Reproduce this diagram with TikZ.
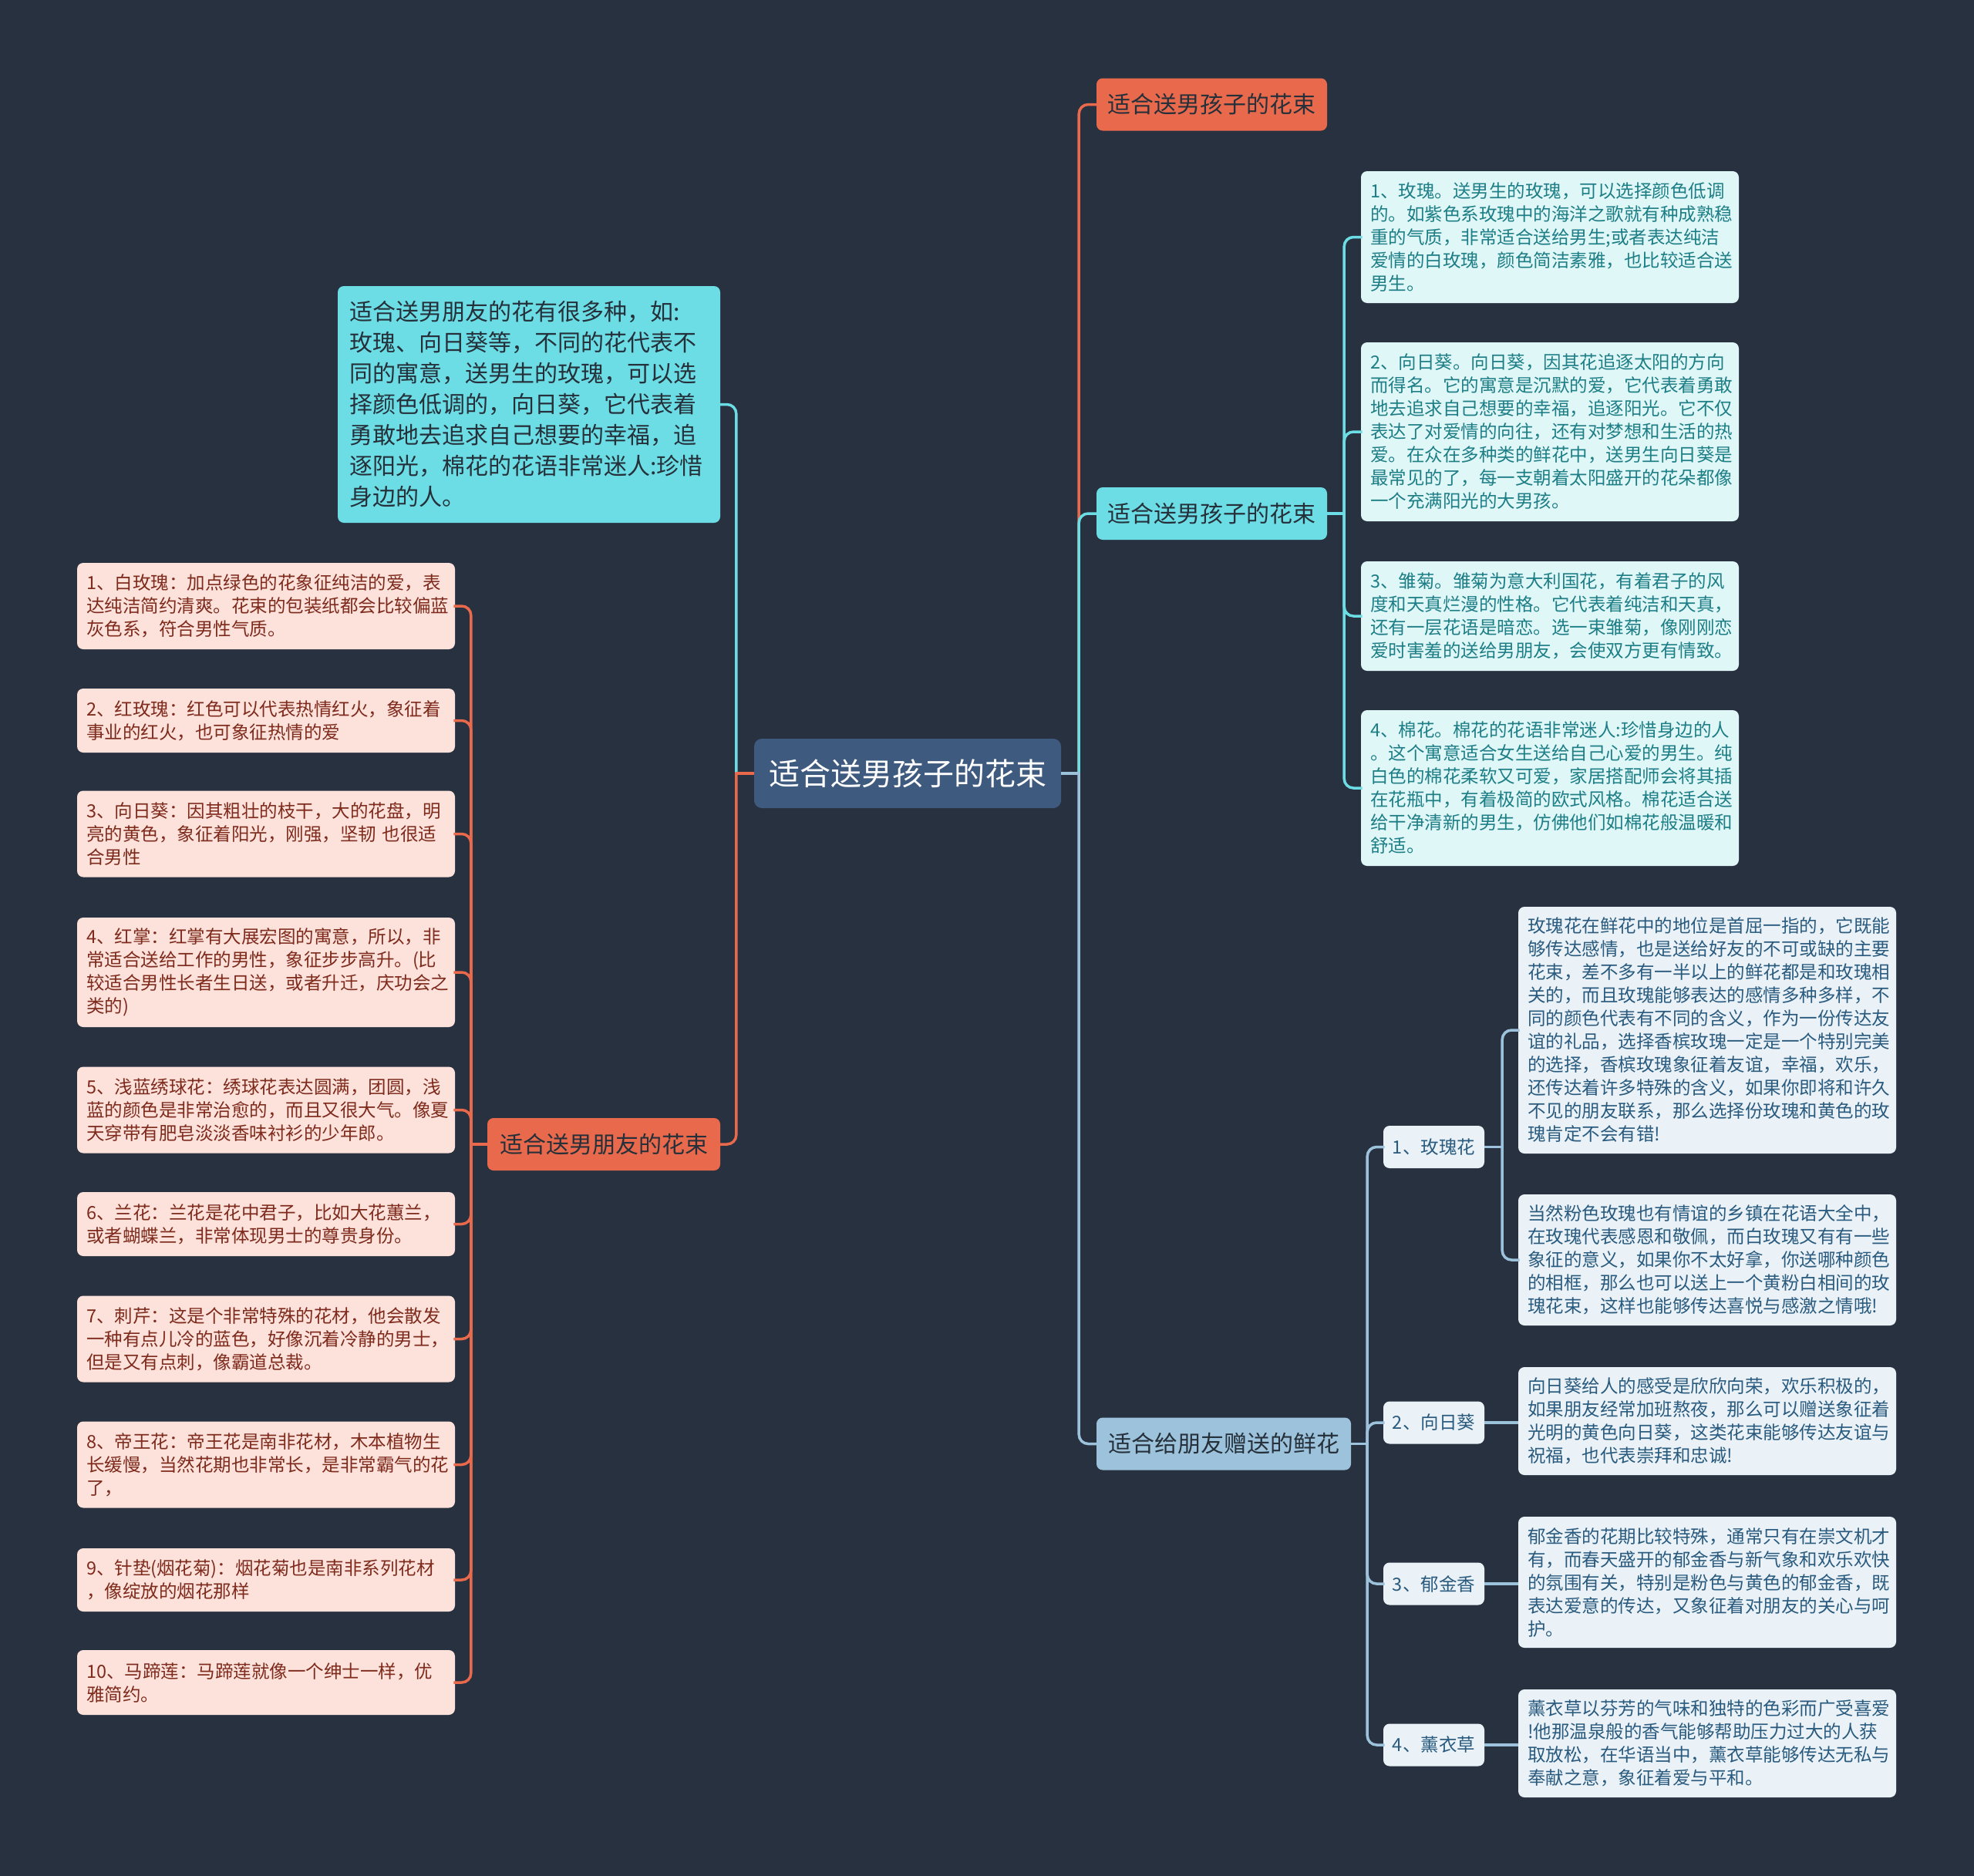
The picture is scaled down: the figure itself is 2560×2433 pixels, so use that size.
\documentclass[tikz,border=0pt]{standalone}
\usepackage{fontspec}
\newfontfamily\cjk{Noto Sans CJK SC}
\definecolor{bg}{HTML}{283140}
\definecolor{centerfill}{HTML}{3E5A7E}
\definecolor{orangefill}{HTML}{E8694B}
\definecolor{cyanfill}{HTML}{6CDDE4}
\definecolor{friendfill}{HTML}{9DC3DC}
\definecolor{pinkfill}{HTML}{FCE2DB}
\definecolor{pinktext}{HTML}{7E2A1C}
\definecolor{cyanleaf}{HTML}{E0F7F8}
\definecolor{cyantext}{HTML}{1D7E86}
\definecolor{friendleaf}{HTML}{EAF2F8}
\definecolor{friendtext}{HTML}{2A5B7E}
\definecolor{darktext}{HTML}{25303A}
\tikzset{
  box/.style={rounded corners=8pt, inner xsep=12pt, inner ysep=0pt, align=left,
    font=\cjk\fontsize{23.5}{30}\selectfont},
  pinkleaf/.style={box, fill=pinkfill, text=pinktext, text width=466pt, minimum height=#1},
  cyanleafbox/.style={box, fill=cyanleaf, text=cyantext, text width=466pt, minimum height=#1},
  friendleafbox/.style={box, fill=friendleaf, text=friendtext, text width=466pt, minimum height=#1},
  smallnode/.style={rounded corners=8pt, fill=friendleaf, text=friendtext, inner sep=0pt,
    minimum width=131pt, minimum height=55pt, font=\cjk\fontsize{23.5}{30}\selectfont},
  topic/.style={rounded corners=8pt, inner sep=0pt, minimum height=68pt,
    font=\cjk\fontsize{30}{40}\selectfont, text=darktext},
  conn/.style={line width=3.5pt, rounded corners=12pt, line cap=rect},
  stub/.style={line width=3.5pt},
}
\begin{document}
\begin{tikzpicture}[x=1pt,y=-1pt]
\fill[bg] (0,0) rectangle (2560,2433);
\useasboundingbox (0,0) rectangle (2560,2433);

% central
\node[rounded corners=10pt, fill=centerfill, text=white, inner sep=0pt,
  minimum width=398pt, minimum height=90pt, font=\cjk\fontsize{40}{48}\selectfont]
  (c) at (1177,1003) {适合送男孩子的花束};

% right level-1
\node[topic, fill=orangefill, minimum width=299pt] (r0) at (1571.5,135.5) {适合送男孩子的花束};
\node[topic, fill=cyanfill, minimum width=299pt] (rc) at (1571.5,666) {适合送男孩子的花束};
\node[topic, fill=friendfill, minimum width=330pt] (f) at (1587,1872.5) {适合给朋友赠送的鲜花};

% left level-1
\node[rounded corners=8pt, fill=cyanfill, text=darktext, inner xsep=15pt, inner ysep=0pt,
  text width=466pt, minimum height=307pt, align=left, font=\cjk\fontsize{30}{40}\selectfont]
  (lc) at (686,524.5) {适合送男朋友的花有很多种，如:\\玫瑰、向日葵等，不同的花代表不\\同的寓意，送男生的玫瑰，可以选\\择颜色低调的，向日葵，它代表着\\勇敢地去追求自己想要的幸福，追\\逐阳光，棉花的花语非常迷人:珍惜\\身边的人。};
\node[topic, fill=orangefill, minimum width=302pt] (lo) at (783,1484) {适合送男朋友的花束};

% pink leaves
\node[pinkleaf=112pt] (p1) at (345,786) {1、白玫瑰：加点绿色的花象征纯洁的爱，表\\达纯洁简约清爽。花束的包装纸都会比较偏蓝\\灰色系，符合男性气质。};
\node[pinkleaf=83pt] (p2) at (345,934.5) {2、红玫瑰：红色可以代表热情红火，象征着\\事业的红火，也可象征热情的爱};
\node[pinkleaf=112pt] (p3) at (345,1081.5) {3、向日葵：因其粗壮的枝干，大的花盘，明\\亮的黄色，象征着阳光，刚强，坚韧~也很适\\合男性};
\node[pinkleaf=142pt] (p4) at (345,1261) {4、红掌：红掌有大展宏图的寓意，所以，非\\常适合送给工作的男性，象征步步高升。(比\\较适合男性长者生日送，或者升迁，庆功会之\\类的)};
\node[pinkleaf=112pt] (p5) at (345,1439.5) {5、浅蓝绣球花：绣球花表达圆满，团圆，浅\\蓝的颜色是非常治愈的，而且又很大气。像夏\\天穿带有肥皂淡淡香味衬衫的少年郎。};
\node[pinkleaf=83pt] (p6) at (345,1587.5) {6、兰花：兰花是花中君子，比如大花蕙兰，\\或者蝴蝶兰，非常体现男士的尊贵身份。};
\node[pinkleaf=112pt] (p7) at (345,1736.5) {7、刺芹：这是个非常特殊的花材，他会散发\\一种有点儿冷的蓝色，好像沉着冷静的男士，\\但是又有点刺，像霸道总裁。};
\node[pinkleaf=112pt] (p8) at (345,1899.5) {8、帝王花：帝王花是南非花材，木本植物生\\长缓慢，当然花期也非常长，是非常霸气的花\\了，};
\node[pinkleaf=82pt] (p9) at (345,2049) {9、针垫(烟花菊)：烟花菊也是南非系列花材\\，像绽放的烟花那样};
\node[pinkleaf=84pt] (p10) at (345,2182) {10、马蹄莲：马蹄莲就像一个绅士一样，优\\雅简约。};

% right cyan leaves
\node[cyanleafbox=171pt] (q1) at (2010,307.5) {1、玫瑰。送男生的玫瑰，可以选择颜色低调\\的。如紫色系玫瑰中的海洋之歌就有种成熟稳\\重的气质，非常适合送给男生;或者表达纯洁\\爱情的白玫瑰，颜色简洁素雅，也比较适合送\\男生。};
\node[cyanleafbox=232pt] (q2) at (2010,560) {2、向日葵。向日葵，因其花追逐太阳的方向\\而得名。它的寓意是沉默的爱，它代表着勇敢\\地去追求自己想要的幸福，追逐阳光。它不仅\\表达了对爱情的向往，还有对梦想和生活的热\\爱。在众在多种类的鲜花中，送男生向日葵是\\最常见的了，每一支朝着太阳盛开的花朵都像\\一个充满阳光的大男孩。};
\node[cyanleafbox=142pt] (q3) at (2010,799) {3、雏菊。雏菊为意大利国花，有着君子的风\\度和天真烂漫的性格。它代表着纯洁和天真，\\还有一层花语是暗恋。选一束雏菊，像刚刚恋\\爱时害羞的送给男朋友，会使双方更有情致。};
\node[cyanleafbox=202pt] (q4) at (2010,1022) {4、棉花。棉花的花语非常迷人:珍惜身边的人\\。这个寓意适合女生送给自己心爱的男生。纯\\白色的棉花柔软又可爱，家居搭配师会将其插\\在花瓶中，有着极简的欧式风格。棉花适合送\\给干净清新的男生，仿佛他们如棉花般温暖和\\舒适。};

% friend small nodes
\node[smallnode] (s1) at (1859.5,1487.5) {1、玫瑰花};
\node[smallnode] (s2) at (1859.5,1845) {2、向日葵};
\node[smallnode] (s3) at (1859.5,2054) {3、郁金香};
\node[smallnode] (s4) at (1859.5,2263) {4、薰衣草};

% friend leaves
\node[friendleafbox=320pt] (g1) at (2214,1336) {玫瑰花在鲜花中的地位是首屈一指的，它既能\\够传达感情，也是送给好友的不可或缺的主要\\花束，差不多有一半以上的鲜花都是和玫瑰相\\关的，而且玫瑰能够表达的感情多种多样，不\\同的颜色代表有不同的含义，作为一份传达友\\谊的礼品，选择香槟玫瑰一定是一个特别完美\\的选择，香槟玫瑰象征着友谊，幸福，欢乐，\\还传达着许多特殊的含义，如果你即将和许久\\不见的朋友联系，那么选择份玫瑰和黄色的玫\\瑰肯定不会有错!};
\node[friendleafbox=170pt] (g2) at (2214,1634) {当然粉色玫瑰也有情谊的乡镇在花语大全中，\\在玫瑰代表感恩和敬佩，而白玫瑰又有有一些\\象征的意义，如果你不太好拿，你送哪种颜色\\的相框，那么也可以送上一个黄粉白相间的玫\\瑰花束，这样也能够传达喜悦与感激之情哦!};
\node[friendleafbox=140pt] (g3) at (2214,1843) {向日葵给人的感受是欣欣向荣，欢乐积极的，\\如果朋友经常加班熬夜，那么可以赠送象征着\\光明的黄色向日葵，这类花束能够传达友谊与\\祝福，也代表崇拜和忠诚!};
\node[friendleafbox=170pt] (g4) at (2214,2052) {郁金香的花期比较特殊，通常只有在崇文机才\\有，而春天盛开的郁金香与新气象和欢乐欢快\\的氛围有关，特别是粉色与黄色的郁金香，既\\表达爱意的传达，又象征着对朋友的关心与呵\\护。};
\node[friendleafbox=140pt] (g5) at (2214,2261) {薰衣草以芬芳的气味和独特的色彩而广受喜爱\\!他那温泉般的香气能够帮助压力过大的人获\\取放松，在华语当中，薰衣草能够传达无私与\\奉献之意，象征着爱与平和。};

% junction points
\coordinate (cr) at ([xshift=23pt]c.east);
\coordinate (cl) at ([xshift=-23pt]c.west);
\coordinate (lor) at ([xshift=-21pt]lo.west);
\coordinate (rcr) at ([xshift=22pt]rc.east);
\coordinate (fr) at ([xshift=21pt]f.east);
\coordinate (s1r) at ([xshift=23pt]s1.east);

% connectors: center to right
\draw[conn, orangefill] (cr) |- (r0.west);
\draw[conn, cyanfill] (cr) |- (rc.west);
\draw[conn, friendfill] (cr) |- (f.west);
\draw[stub, friendfill] (c.east) -- (cr);
% center to left
\draw[conn, cyanfill] (cl) |- (lc.east);
\draw[conn, orangefill] (cl) |- (lo.east);
\draw[stub, orangefill] (c.west) -- (cl);
% left orange to pink leaves
\foreach \n in {p1,p2,p3,p4,p5,p6,p7,p8,p9,p10}
  \draw[conn, orangefill] (lor) |- (\n.east);
\draw[stub, orangefill] (lo.west) -- (lor);
% right cyan to leaves
\foreach \n in {q1,q2,q3,q4}
  \draw[conn, cyanfill] (rcr) |- (\n.west);
\draw[stub, cyanfill] (rc.east) -- (rcr);
% friend to small nodes
\foreach \n in {s1,s2,s3,s4}
  \draw[conn, friendfill] (fr) |- (\n.west);
\draw[stub, friendfill] (f.east) -- (fr);
% small nodes to friend leaves
\draw[conn, friendfill] (s1r) |- (g1.west);
\draw[conn, friendfill] (s1r) |- (g2.west);
\draw[stub, friendfill] (s1.east) -- (s1r);
\draw[stub, friendfill] (s2.east) -- (s2.east -| g3.west);
\draw[stub, friendfill] (s3.east) -- (s3.east -| g4.west);
\draw[stub, friendfill] (s4.east) -- (s4.east -| g5.west);
\end{tikzpicture}
\end{document}
